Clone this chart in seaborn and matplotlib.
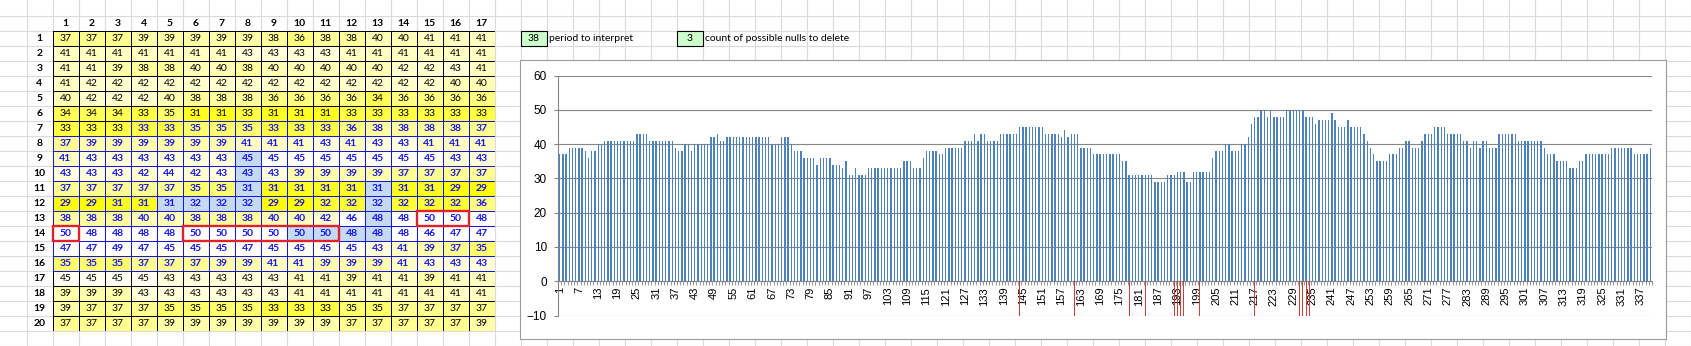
import matplotlib
matplotlib.use("Agg")
import matplotlib.pyplot as plt
from matplotlib.colors import LinearSegmentedColormap
from matplotlib.patches import Rectangle
import numpy as np
import pandas as pd
import seaborn as sns

# ---------------- data ----------------
row_labels = [str(i) for i in range(1, 21)]
col_labels = [str(i) for i in range(1, 18)]
r01 = [37, 37, 37, 39, 39, 39, 39, 39, 38, 36, 38, 38, 40, 40, 41, 41, 41]
r02 = [41, 41, 41, 41, 41, 41, 41, 43, 43, 43, 43, 41, 41, 41, 41, 41, 41]
r03 = [41, 41, 39, 38, 38, 40, 40, 38, 40, 40, 40, 40, 40, 42, 42, 43, 41]
r04 = [41, 42, 42, 42, 42, 42, 42, 42, 42, 42, 42, 42, 42, 42, 42, 40, 40]
r05 = [40, 42, 42, 42, 40, 38, 38, 38, 36, 36, 36, 36, 34, 36, 36, 36, 36]
r06 = [34, 34, 34, 33, 35, 31, 31, 33, 31, 31, 31, 33, 33, 33, 33, 33, 33]
r07 = [33, 33, 33, 33, 33, 35, 35, 35, 33, 33, 33, 36, 38, 38, 38, 38, 37]
r08 = [37, 39, 39, 39, 39, 39, 39, 41, 41, 41, 43, 41, 43, 43, 41, 41, 41]
r09 = [41, 43, 43, 43, 43, 43, 43, 45, 45, 45, 45, 45, 45, 45, 45, 43, 43]
r10 = [43, 43, 43, 42, 44, 42, 43, 43, 43, 39, 39, 39, 39, 37, 37, 37, 37]
r11 = [37, 37, 37, 37, 37, 35, 35, 31, 31, 31, 31, 31, 31, 31, 31, 29, 29]
r12 = [29, 29, 31, 31, 31, 32, 32, 32, 29, 29, 32, 32, 32, 32, 32, 32, 36]
r13 = [38, 38, 38, 40, 40, 38, 38, 38, 40, 40, 42, 46, 48, 48, 50, 50, 48]
r14 = [50, 48, 48, 48, 48, 50, 50, 50, 50, 50, 50, 48, 48, 48, 46, 47, 47]
r15 = [47, 47, 49, 47, 45, 45, 45, 47, 45, 45, 45, 45, 43, 41, 39, 37, 35]
r16 = [35, 35, 35, 37, 37, 37, 39, 39, 41, 41, 39, 39, 39, 41, 43, 43, 43]
r17 = [45, 45, 45, 45, 43, 43, 43, 43, 43, 41, 41, 39, 41, 41, 39, 41, 41]
r18 = [39, 39, 39, 43, 43, 43, 43, 43, 43, 41, 41, 41, 41, 41, 41, 41, 41]
r19 = [39, 37, 37, 37, 35, 35, 35, 35, 33, 33, 33, 35, 35, 37, 37, 37, 37]
r20 = [37, 37, 37, 37, 39, 39, 39, 39, 39, 39, 39, 37, 37, 37, 37, 37, 39]
grid_values = [r01, r02, r03, r04, r05, r06, r07, r08, r09, r10,
               r11, r12, r13, r14, r15, r16, r17, r18, r19, r20]

period_to_interpret = 38
count_nulls = 3
# highlighted (possible null) cells: (row, col)
null_cells = [(9, 8), (10, 8), (11, 8), (12, 5), (12, 6), (12, 7), (12, 8),
              (11, 13), (12, 13), (13, 13), (14, 10), (14, 11), (14, 12), (14, 13)]
# maximum runs boxed in red: (row, first col, last col)
max_runs = [(14, 1, 1), (14, 6, 11), (13, 15, 16)]
interpret_first, interpret_last = 106, 272   # linear cell indices of blue region
null_marker_value = -10

ncols = len(col_labels)
series = [v for row in grid_values for v in row]
x_index = list(range(1, len(series) + 1))
null_idx = sorted((r - 1) * ncols + c for r, c in null_cells)
x_ticks = list(range(1, len(series) + 1, 6))
x_tick_labels = [str(i) for i in x_ticks]

# ---------------- figure ----------------
W, H = 1691, 346
fig = plt.figure(figsize=(W / 100, H / 100), dpi=100)


def rect(l, t, r, b):
    return [l / W, 1 - b / H, (r - l) / W, (b - t) / H]


GRID = "#DADADA"
AXG = "#868686"
CELLFONT = "Lato"

# background sheet
bg = fig.add_axes([0, 0, 1, 1])
bg.set_xlim(0, W)
bg.set_ylim(H, 0)
bg.axis("off")
for x in np.arange(26.5, W, 26):
    bg.plot([x, x], [0, H], color=GRID, lw=0.8, zorder=1)
for y in np.arange(15.7, H, 15):
    bg.plot([0, W], [y, y], color=GRID, lw=0.8, zorder=1)

# chart frame
bg.add_patch(Rectangle((520, 60), 1146, 279, fc="white", ec="#9A9A9A", lw=0.8, zorder=3))

# input cells
bg.add_patch(Rectangle((520.5, 30.7), 26, 15, fc="#CCFFCC", ec="black", lw=0.8, zorder=4))
bg.text(533.5, 38.4, str(period_to_interpret), ha="center", va="center",
        fontsize=7.5, family=CELLFONT, zorder=5)
bg.text(549, 38.4, "period to interpret", ha="left", va="center",
        fontsize=7.5, family=CELLFONT, zorder=5)
bg.add_patch(Rectangle((676.5, 30.7), 26, 15, fc="#CCFFCC", ec="black", lw=0.8, zorder=4))
bg.text(689.5, 38.4, str(count_nulls), ha="center", va="center",
        fontsize=7.5, family=CELLFONT, zorder=5)
bg.text(705, 38.4, "count of possible nulls to delete", ha="left", va="center",
        fontsize=7.5, family=CELLFONT, zorder=5)

# ---------------- heatmap table ----------------
axh = fig.add_axes(rect(52.5, 30.7, 494.5, 330.7))
df_grid = pd.DataFrame(grid_values, index=row_labels, columns=col_labels)
cmap = LinearSegmentedColormap.from_list(
    "ywhite", [(0.0, "#FFFF00"), (0.15, "#FFFF28"), (0.45, "#FFFF8C"), (1.0, "#FFFFFF")])
sns.heatmap(df_grid, ax=axh, cmap=cmap, vmin=29, vmax=46, cbar=False,
            annot=True, fmt="d", linewidths=0.72, linecolor="black",
            annot_kws={"fontsize": 7.5, "family": CELLFONT})
axh.xaxis.tick_top()
axh.tick_params(axis="both", length=0)
axh.tick_params(axis="x", pad=5.0)
axh.tick_params(axis="y", pad=9.4)
for t in axh.get_xticklabels():
    t.set_fontweight("bold"); t.set_fontsize(7.5); t.set_family(CELLFONT)
    t.set_va("center"); t.set_rotation(0)
for t in axh.get_yticklabels():
    t.set_fontweight("bold"); t.set_fontsize(7.5); t.set_family(CELLFONT)
    t.set_ha("center"); t.set_rotation(0)

blue = "#1414F0"
for t in axh.texts:
    x, y = t.get_position()
    c, r = int(x), int(y)
    lin = r * ncols + c + 1
    if interpret_first <= lin <= interpret_last:
        t.set_color(blue)
        t.set_fontweight("bold")
    else:
        t.set_color("black")
    t.set_zorder(6)

for r, c in null_cells:
    axh.add_patch(Rectangle((c - 1, r - 1), 1, 1, fc="#C5D9F1", ec="none", zorder=2))
for lin in range(interpret_first, interpret_last + 1):
    r, c = divmod(lin - 1, ncols)
    axh.add_patch(Rectangle((c, r), 1, 1, fc="none", ec=blue, lw=0.72, zorder=3))
for r, c0, c1 in max_runs:
    axh.add_patch(Rectangle((c0 - 1, r - 1), c1 - c0 + 1, 1, fc="none",
                            ec="#E0202A", lw=1.7, zorder=4, clip_on=False))

# ---------------- bar chart ----------------
axc = fig.add_axes(rect(558, 75.5, 1652, 315.5))
axc.set_facecolor("white")
df_bars = pd.DataFrame({"idx": x_index, "value": series})
sns.barplot(data=df_bars, x="idx", y="value", native_scale=True, color="#4F81BD",
            saturation=1, width=0.42, errorbar=None, ax=axc, zorder=3)
df_null = pd.DataFrame({"idx": null_idx, "value": [null_marker_value] * len(null_idx)})
sns.barplot(data=df_null, x="idx", y="value", native_scale=True, color="#C8403C",
            saturation=1, width=0.36, errorbar=None, ax=axc, zorder=5)

axc.set_xlim(0.5, len(series) + 0.5)
axc.set_ylim(-10, 60)
axc.set_yticks(range(-10, 61, 10))
axc.grid(axis="y", color=AXG, lw=0.8)
axc.grid(axis="x", visible=False)
axc.set_axisbelow(True)
axc.set_xlabel("")
axc.set_ylabel("")
for s in ["top", "right"]:
    axc.spines[s].set_visible(False)
axc.spines["left"].set_color(AXG)
axc.spines["left"].set_linewidth(0.8)
axc.spines["bottom"].set_position(("data", 0))
axc.spines["bottom"].set_color(AXG)
axc.spines["bottom"].set_linewidth(0.8)
axc.set_xticks(x_ticks)
axc.set_xticklabels(x_tick_labels, rotation=90, family="Liberation Sans", fontsize=8)
axc.set_xticks(np.arange(0.5, len(series) + 1, 1), minor=True)
axc.tick_params(axis="x", which="major", length=0, pad=4)
axc.tick_params(axis="x", which="minor", length=3, color=AXG, direction="out")
axc.tick_params(axis="y", length=3, color=AXG, pad=5, labelsize=8.5)
for t in axc.get_yticklabels():
    t.set_family("Liberation Sans")
for p in axc.patches:
    if p.get_height() < 0:
        p.set_zorder(6)
        p.set_linewidth(0)

fig.savefig("out.png", dpi=100)
